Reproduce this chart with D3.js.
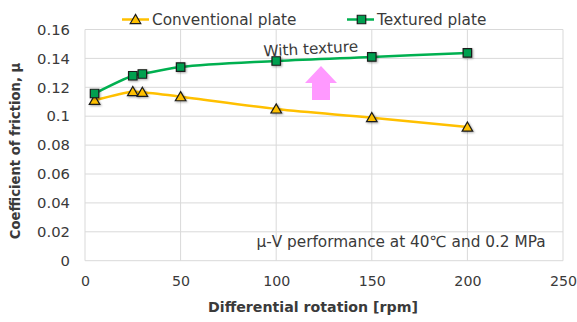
<!DOCTYPE html>
<html>
<head>
<meta charset="utf-8">
<script src="https://cdn.jsdelivr.net/npm/d3@7"></script>
<style>
  body { margin: 0; background: #fff; }
  svg text { font-family: "DejaVu Sans", Verdana, sans-serif; fill: #3a3a3a; }
</style>
</head>
<body>
<script>
// rpm values for each measured point
const rpm = [5, 25, 30, 50, 100, 150, 200];
// friction coefficients
const conventional = [0.111, 0.117, 0.1165, 0.1135, 0.105, 0.099, 0.0925];
const textured = [0.1157, 0.128, 0.1292, 0.134, 0.1382, 0.141, 0.1438];
const xTicks = [0, 50, 100, 150, 200, 250];
const yTicks = [0, 0.02, 0.04, 0.06, 0.08, 0.1, 0.12, 0.14, 0.16];

const w = 577;
const h = 322;
const plotLeft = 85, plotRight = 563, plotTop = 29.5, plotBottom = 260.7;

const svg = d3.select("body").append("svg").attr("width", w).attr("height", h);

const defs = svg.append("defs");
const f = defs.append("filter").attr("id", "shadow").attr("x", "-50%").attr("y", "-50%").attr("width", "200%").attr("height", "200%");
f.append("feDropShadow").attr("dx", 1).attr("dy", 1).attr("stdDeviation", 0.8).attr("flood-color", "#000").attr("flood-opacity", 0.35);

const xScale = d3.scaleLinear().domain([0, 250]).range([plotLeft, plotRight]);
const yScale = d3.scaleLinear().domain([0, 0.16]).range([plotBottom, plotTop]);

// gridlines
svg.append("g").selectAll("line").data(yTicks).enter().append("line")
  .attr("x1", plotLeft).attr("x2", plotRight)
  .attr("y1", d => yScale(d)).attr("y2", d => yScale(d))
  .attr("stroke", "#d9d9d9").attr("stroke-width", 1);
svg.append("g").selectAll("line").data(xTicks).enter().append("line")
  .attr("x1", d => xScale(d)).attr("x2", d => xScale(d))
  .attr("y1", plotTop).attr("y2", plotBottom)
  .attr("stroke", "#d9d9d9").attr("stroke-width", 1);

// axes (labels only, lines come from the grid)
const xAxis = d3.axisBottom(xScale).tickValues(xTicks).tickSize(0).tickPadding(15).tickFormat(d3.format("d"));
const yAxis = d3.axisLeft(yScale).tickValues(yTicks).tickSize(0).tickPadding(15).tickFormat(d => d === 0 ? "0" : d3.format("")(d));
const gx = svg.append("g").attr("transform", "translate(0," + plotBottom + ")").call(xAxis);
const gy = svg.append("g").attr("transform", "translate(" + plotLeft + ",0)").call(yAxis);
[gx, gy].forEach(g => {
  g.select(".domain").remove();
  g.selectAll("text").attr("font-family", "DejaVu Sans").attr("fill", "#3a3a3a");
});
gx.selectAll("text").attr("font-size", 14.2).attr("dy", "0.75em");
gy.selectAll("text").attr("font-size", 14.8);

// axis titles
svg.append("text").attr("x", 313).attr("y", 312).attr("text-anchor", "middle")
  .attr("font-size", 14.2).attr("font-weight", "bold").text("Differential rotation [rpm]");
svg.append("text").attr("transform", "translate(20,151) rotate(-90)").attr("text-anchor", "middle")
  .attr("font-size", 13.2).attr("font-weight", "bold").text("Coefficient of friction, μ");

// series lines
const line = d3.line().x((d, i) => xScale(rpm[i])).y(d => yScale(d)).curve(d3.curveCatmullRom.alpha(0.5));
svg.append("path").attr("d", line(conventional)).attr("fill", "none").attr("stroke", "#ffc000").attr("stroke-width", 2.5);
svg.append("path").attr("d", line(textured)).attr("fill", "none").attr("stroke", "#00b050").attr("stroke-width", 2.5);

const tri = d3.symbol().type(d3.symbolTriangle).size(48);
const sq = d3.symbol().type(d3.symbolSquare).size(72);

svg.append("g").selectAll("path").data(conventional).enter().append("path")
  .attr("d", tri)
  .attr("transform", (d, i) => "translate(" + xScale(rpm[i]) + "," + (yScale(d) + 1) + ")")
  .attr("fill", "#ffc000").attr("stroke", "#1a1a1a").attr("stroke-width", 1.2).attr("filter", "url(#shadow)");
svg.append("g").selectAll("path").data(textured).enter().append("path")
  .attr("d", sq)
  .attr("transform", (d, i) => "translate(" + xScale(rpm[i]) + "," + yScale(d) + ")")
  .attr("fill", "#00a050").attr("stroke", "#1a1a1a").attr("stroke-width", 1.2).attr("filter", "url(#shadow)");

// legend
const legend = svg.append("g");
legend.append("line").attr("x1", 122).attr("x2", 149).attr("y1", 19.5).attr("y2", 19.5).attr("stroke", "#ffc000").attr("stroke-width", 2.5);
legend.append("path").attr("d", tri).attr("transform", "translate(135.5,20.5)").attr("fill", "#ffc000").attr("stroke", "#1a1a1a").attr("stroke-width", 1.2);
legend.append("text").attr("x", 152).attr("y", 25).attr("font-size", 15.3).text("Conventional plate");
legend.append("line").attr("x1", 347).attr("x2", 374).attr("y1", 19.5).attr("y2", 19.5).attr("stroke", "#00b050").attr("stroke-width", 2.5);
legend.append("path").attr("d", sq).attr("transform", "translate(361.5,19.5)").attr("fill", "#00a050").attr("stroke", "#1a1a1a").attr("stroke-width", 1.2);
legend.append("text").attr("x", 377).attr("y", 25).attr("font-size", 15.3).text("Textured plate");

// annotations
svg.append("text").attr("transform", "translate(311,54) rotate(-3)").attr("text-anchor", "middle")
  .attr("font-size", 15.3).text("With texture");
svg.append("path")
  .attr("d", "M312,100 L312,83 L305,83 L321,66 L337,83 L330,83 L330,100 Z")
  .attr("fill", "#ff99ff");
svg.append("text").attr("x", 401).attr("y", 247).attr("text-anchor", "middle")
  .attr("font-size", 15.3).text("μ-V performance at 40℃ and 0.2 MPa");
</script>
</body>
</html>
